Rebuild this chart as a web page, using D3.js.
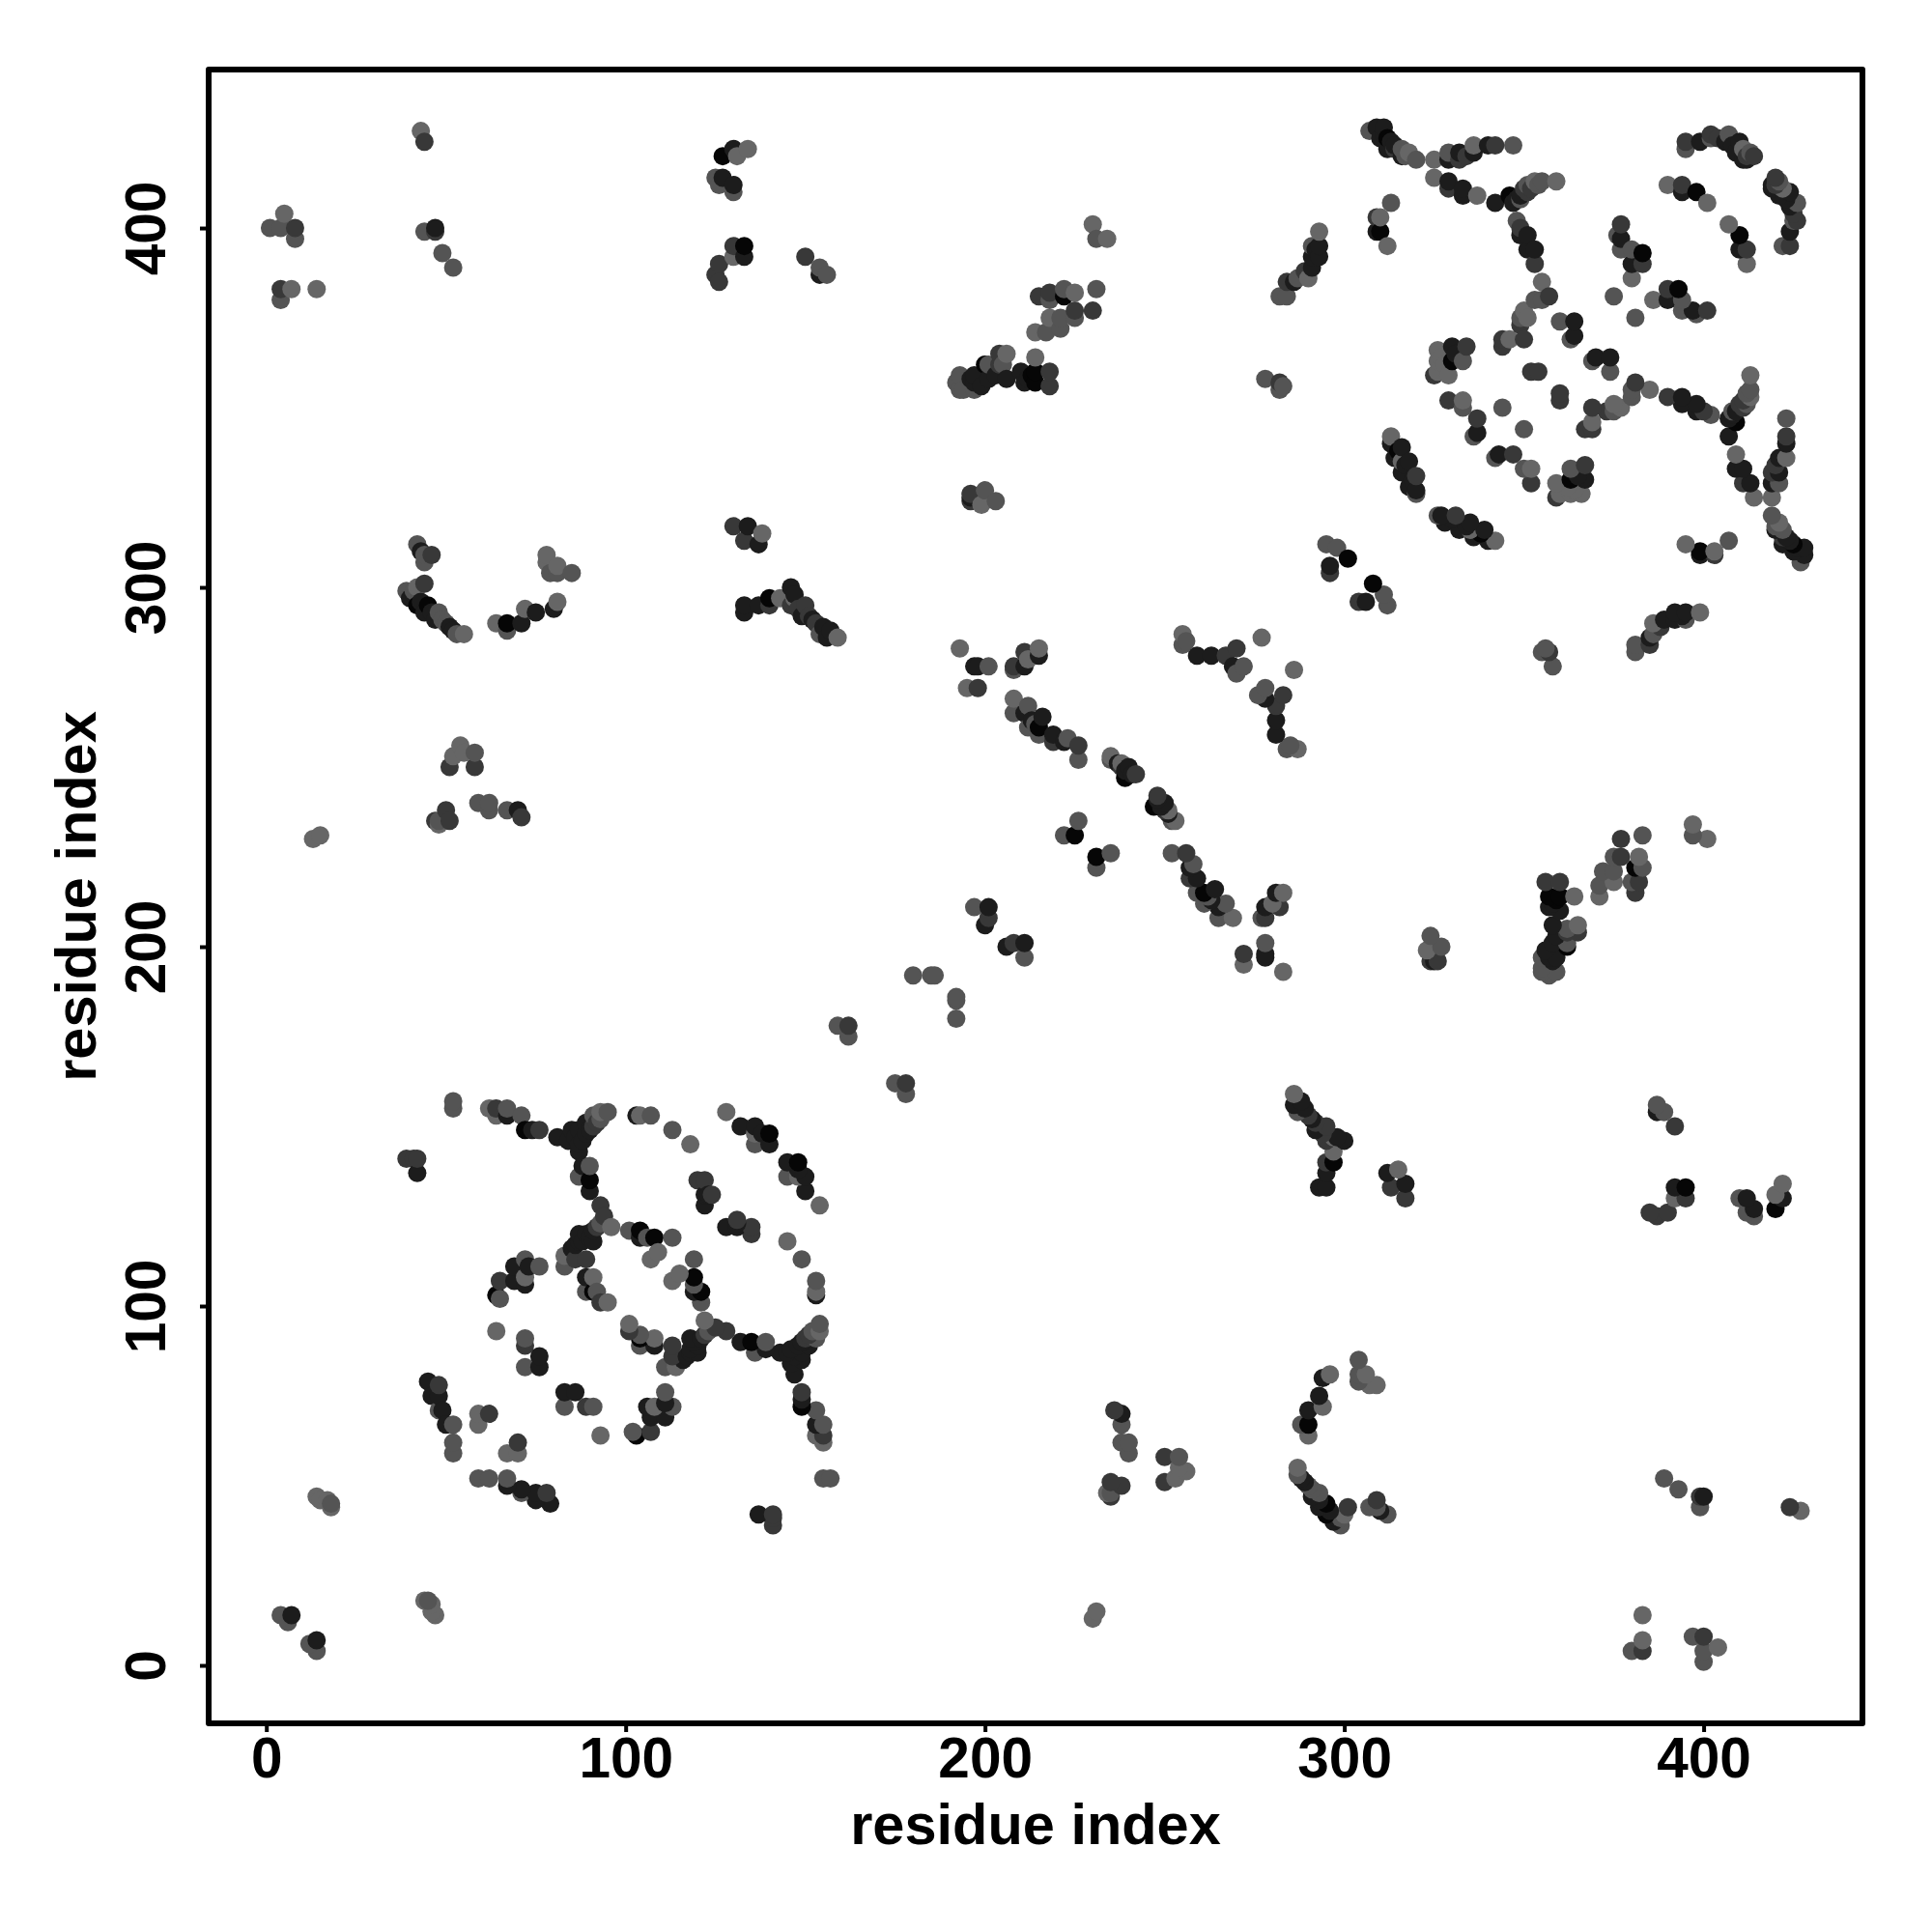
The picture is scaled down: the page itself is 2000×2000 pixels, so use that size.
<!DOCTYPE html>
<html><head><meta charset="utf-8"><style>html,body{margin:0;background:#fff}svg{display:block}</style>
<script src="https://cdnjs.cloudflare.com/ajax/libs/d3/7.8.5/d3.min.js"></script></head><body>
<svg id="c" width="2000" height="2000"></svg>
<script>
const xTicks=[0,100,200,300,400], yTicks=[0,100,200,300,400];
const xTitle="residue index", yTitle="residue index";
// contacts [i,j] with i<j, grouped by score shade; a contact map is symmetric
const shades=["#666666","#545454","#383838","#1c1c1c","#060606"];
const contactsWeakest=[[14,47],[15,46],[17,46],[18,44],[5,404],[7,383],[14,383],[43,427],[134,422],[131,420],[130,392],[138,315],[143,297],[147,297],[159,286],[42,300],[55,287],[64,290],[72,294],[81,296],[78,309],[78,307],[81,306],[54,256],[52,253],[55,254],[48,234],[13,230],[15,231],[62,155],[64,153],[93,154],[96,122],[83,114],[91,108],[95,101],[72,108],[64,93],[59,70],[59,67],[104,153],[118,145],[128,154],[136,148],[109,115],[107,113],[230,401],[234,397],[225,382],[218,375],[214,371],[206,365],[214,364],[293,399],[290,386],[199,323],[193,283],[195,272],[215,283],[212,280],[208,269],[235,253],[238,251],[255,287],[277,286],[318,421],[325,419],[336,423],[325,414],[337,409],[353,413],[359,413],[310,403],[312,395],[411,422],[390,412],[401,407],[380,386],[355,385],[351,375],[350,377],[346,369],[326,366],[326,363],[326,360],[329,359],[328,362],[327,364],[333,352],[313,342],[316,335]];
const contactsWeak=[[4,14],[6,12],[18,45],[1,400],[4,400],[8,397],[4,380],[44,399],[49,393],[52,389],[125,414],[126,412],[130,410],[154,389],[156,387],[154,287],[155,287],[42,312],[44,309],[44,307],[39,299],[41,299],[48,293],[49,291],[50,290],[53,287],[67,288],[79,304],[81,304],[85,304],[58,254],[59,240],[62,240],[62,238],[67,238],[48,235],[52,157],[52,155],[67,155],[71,153],[91,153],[93,152],[95,154],[90,139],[87,136],[93,123],[83,111],[89,104],[92,104],[76,111],[72,113],[65,102],[72,91],[72,83],[48,71],[52,67],[52,62],[52,59],[107,153],[113,149],[136,145],[101,121],[106,119],[113,119],[231,397],[231,383],[225,375],[222,383],[218,380],[221,375],[221,372],[217,371],[192,357],[193,359],[193,355],[194,355],[197,355],[201,362],[205,362],[291,395],[287,386],[284,381],[282,381],[278,358],[283,356],[282,355],[200,327],[203,324],[295,312],[298,311],[201,278],[208,277],[208,265],[212,267],[212,261],[214,262],[215,259],[223,258],[226,252],[235,252],[226,235],[222,231],[197,211],[180,192],[185,192],[186,192],[159,178],[162,175],[256,285],[255,284],[272,278],[270,276],[307,427],[316,422],[317,420],[320,419],[329,421],[347,423],[351,412],[354,412],[355,413],[349,408],[348,402],[313,407],[395,422],[402,425],[407,426],[413,421],[376,398],[377,394],[380,394],[375,381],[355,380],[353,380],[349,375],[360,374],[363,369],[333,363],[333,350],[336,342],[344,350],[320,326]];
const contactsMedium=[[8,400],[4,383],[44,424],[47,399],[130,395],[126,390],[125,387],[126,385],[150,392],[130,317],[133,313],[140,295],[146,295],[148,294],[150,295],[151,292],[153,290],[46,309],[44,301],[51,250],[58,250],[71,236],[50,238],[51,235],[47,235],[64,155],[76,149],[91,150],[92,151],[39,141],[41,141],[42,141],[93,128],[94,125],[86,113],[89,113],[92,122],[93,101],[65,107],[72,89],[48,78],[62,70],[120,135],[122,135],[124,131],[230,377],[225,377],[218,382],[215,381],[204,365],[204,362],[218,360],[218,356],[284,385],[289,388],[282,357],[196,326],[196,324],[296,304],[198,272],[208,278],[211,282],[219,257],[226,256],[238,250],[242,248],[201,208],[162,178],[267,281],[270,283],[314,422],[332,419],[334,420],[342,423],[329,411],[350,411],[351,410],[352,411],[349,400],[353,390],[309,403],[395,424],[402,426],[404,425],[412,420],[414,420],[394,412],[377,401],[383,390],[357,381],[349,373],[350,369],[344,369],[344,367],[352,360],[354,360],[334,367],[325,359],[329,352],[337,347],[320,331]];
const contactsStrong=[[7,14],[47,400],[130,422],[127,414],[130,412],[133,392],[154,387],[134,317],[137,312],[133,295],[133,293],[137,295],[146,300],[147,298],[149,292],[152,291],[155,289],[156,286],[157,288],[41,298],[43,296],[43,310],[40,297],[44,293],[46,293],[47,291],[51,289],[52,288],[71,290],[75,293],[80,294],[70,238],[67,153],[74,149],[81,147],[85,149],[84,146],[86,147],[87,145],[87,143],[88,146],[89,148],[87,149],[89,151],[90,149],[42,137],[88,139],[90,132],[91,121],[89,120],[87,118],[86,117],[85,116],[87,120],[88,118],[90,119],[91,118],[89,108],[73,111],[69,111],[69,107],[72,106],[76,86],[76,83],[45,79],[46,75],[48,75],[49,71],[50,67],[103,153],[132,150],[136,150],[140,145],[138,148],[123,131],[122,131],[122,128],[104,119],[196,358],[197,359],[197,357],[199,356],[201,358],[203,359],[206,358],[210,360],[211,357],[212,358],[293,395],[293,392],[292,394],[291,392],[291,389],[286,385],[196,325],[296,306],[197,278],[198,278],[215,281],[211,278],[211,265],[213,263],[216,264],[219,259],[222,257],[237,251],[239,249],[240,250],[241,248],[201,211],[200,206],[259,281],[263,281],[269,278],[309,428],[311,428],[311,426],[310,425],[313,424],[314,423],[312,422],[316,420],[329,419],[332,421],[336,421],[340,423],[329,413],[333,411],[333,409],[342,407],[347,407],[348,408],[349,409],[351,398],[349,398],[351,394],[353,394],[309,399],[399,424],[406,424],[409,421],[410,424],[408,423],[411,419],[412,419],[394,410],[377,397],[380,390],[364,374],[364,370],[330,367],[331,365],[337,343],[313,340],[316,339],[314,336],[315,337],[317,334],[318,335],[316,332],[319,330],[318,328],[320,327]];
const contactsStrongest=[[127,420],[133,395],[140,297],[42,295],[45,295],[67,290],[72,149],[90,135],[91,104],[64,103],[140,148],[104,121],[108,119],[222,381],[200,362],[213,359],[214,357],[214,360],[301,308],[215,261],[239,247],[225,231],[312,425],[346,409],[310,399],[398,410],[383,393],[330,363],[315,338]];

const W=2000,H=2000,L=216,R=1928,T=72,B=1784;
const x=d3.scaleLinear().domain([-16.05,444.2]).range([L,R]);
const y=d3.scaleLinear().domain([-16.13,444.1]).range([B,T]);
const svg=d3.select("#c");
const font='"Liberation Sans",Arial,sans-serif';
const levels=[contactsWeakest,contactsWeak,contactsMedium,contactsStrong,contactsStrongest];
const all=levels.flatMap((a,s)=>a.map(([i,j])=>({i,j,s})));
all.sort((a,b)=>d3.ascending(a.i,b.i)||d3.ascending(a.j,b.j));
const marks=all.flatMap(d=>[{x:d.i,y:d.j,s:d.s},{x:d.j,y:d.i,s:d.s}]);
svg.append("g").selectAll("circle").data(marks).join("circle")
 .attr("cx",d=>x(d.x)).attr("cy",d=>y(d.y)).attr("r",9.5).attr("fill",d=>shades[d.s]);
svg.append("rect").attr("x",L).attr("y",T).attr("width",R-L).attr("height",B-T)
 .attr("fill","none").attr("stroke","#000").attr("stroke-width",6).attr("stroke-linejoin","round");
const gx=svg.append("g").attr("transform",`translate(0,${B})`)
 .call(d3.axisBottom(x).tickValues(xTicks).tickFormat(d3.format("d")).tickSize(9).tickPadding(0));
const gy=svg.append("g").attr("transform",`translate(${L},0)`)
 .call(d3.axisLeft(y).tickValues(yTicks).tickFormat(d3.format("d")).tickSize(9).tickPadding(0));
[gx,gy].forEach(g=>{g.select(".domain").remove();
 g.selectAll("line").attr("stroke","#000").attr("stroke-width",4);});
gx.selectAll("text").attr("y",null).attr("dy",null).attr("transform",`translate(0,${1840-B})`)
 .attr("text-anchor","middle").style("font",`bold 58.5px ${font}`).attr("fill","#000");
gy.selectAll("text").attr("x",null).attr("dy",null).attr("transform",`translate(${171-L},0) rotate(-90)`)
 .attr("text-anchor","middle").style("font",`bold 58.5px ${font}`).attr("fill","#000");
svg.append("text").attr("x",(L+R)/2).attr("y",1909).attr("text-anchor","middle")
 .style("font",`bold 59.5px ${font}`).text(xTitle);
svg.append("text").attr("transform",`translate(99,${(T+B)/2}) rotate(-90)`).attr("text-anchor","middle")
 .style("font",`bold 59.5px ${font}`).text(yTitle);
</script></body></html>
